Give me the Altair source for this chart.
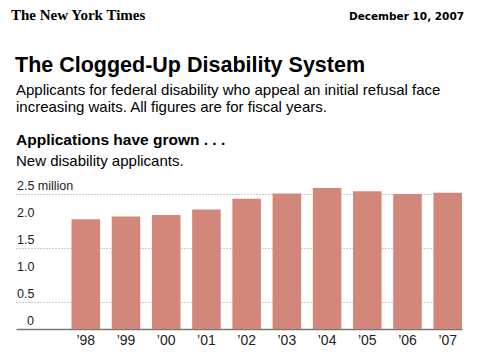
import altair as alt
import pandas as pd

years = ["’98", "’99", "’00", "’01", "’02", "’03", "’04", "’05", "’06", "’07"]
applicants = [2.04, 2.09, 2.12, 2.22, 2.42, 2.52, 2.62, 2.56, 2.51, 2.53]
tick_values = [0.5, 1.0, 1.5, 2.0, 2.5]
tick_labels = ["0.5", "1.0", "1.5", "2.0", "2.5 million"]

bars_df = pd.DataFrame({"year": years, "value": applicants})
ticks_df = pd.DataFrame({"v": tick_values, "label": tick_labels})
zero_df = pd.DataFrame({"v": [0.0], "label": ["0"]})
one_df = pd.DataFrame({"k": [0]})

FONT = "Liberation Sans"
W, H = 446, 148

yscale = alt.Scale(domain=[0, 2.75], nice=False, zero=True)

bars = alt.Chart(bars_df).mark_bar(color="#d2877a").encode(
    x=alt.X("year:N", sort=years,
            scale=alt.Scale(paddingInner=0.29, paddingOuter=0.69, align=1),
            axis=alt.Axis(title=None, labelAngle=0, ticks=False, domain=True,
                          domainColor="#777777", domainWidth=1.5,
                          labelFont=FONT, labelFontSize=14, labelColor="#222222",
                          labelPadding=4, grid=False)),
    y=alt.Y("value:Q", scale=yscale,
            axis=alt.Axis(title=None, values=tick_values, grid=True, gridDash=[1, 2],
                          gridColor="#999999", gridWidth=1, labels=False, ticks=False,
                          domain=False)),
)

ylabels = alt.Chart(ticks_df).mark_text(
    align="left", baseline="alphabetic", dy=-4, font=FONT, fontSize=12.5, color="#222222"
).encode(x=alt.value(1), y=alt.Y("v:Q", scale=yscale), text="label:N")

zlabel = alt.Chart(zero_df).mark_text(
    align="left", baseline="alphabetic", dy=-4, font=FONT, fontSize=12.5, color="#222222"
).encode(x=alt.value(11), y=alt.Y("v:Q", scale=yscale), text="label:N")


def header(txt, x, y, size, weight="normal", font=FONT, align="left"):
    return alt.Chart(one_df).mark_text(
        align=align, baseline="alphabetic", font=font, fontSize=size,
        fontWeight=weight, color="#000000"
    ).encode(x=alt.value(x), y=alt.value(y), text=alt.value(txt))


headers = [
    header("The New York Times", -5, -161, 15, "bold", "Liberation Serif"),
    header("December 10, 2007", 448, -161, 10.5, "bold", "DejaVu Sans", "right"),
    header("The Clogged-Up Disability System", -1, -109, 21.5, "bold"),
    header("Applicants for federal disability who appeal an initial refusal face", 0, -86.5, 15),
    header("increasing waits. All figures are for fiscal years.", 0, -69.5, 15),
    header("Applications have grown . . .", 0, -36, 15.5, "bold"),
    header("New disability applicants.", 0, -15, 15),
]

chart = alt.layer(bars, ylabels, zlabel, *headers).properties(
    width=W, height=H,
    autosize=alt.AutoSizeParams(type="none"),
    padding={"left": 16, "top": 181, "right": 21, "bottom": 27},
    background="white",
).configure_view(strokeWidth=0)

chart.save("out.html", embed_options={"renderer": "svg", "actions": False})
